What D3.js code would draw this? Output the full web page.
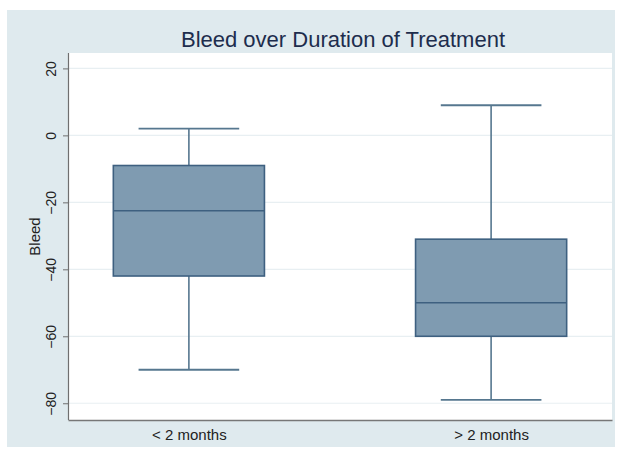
<!DOCTYPE html>
<html>
<head>
<meta charset="utf-8">
<script src="https://cdn.jsdelivr.net/npm/d3@7"></script>
<style>
    body { margin: 0; background: #fff; }
    text { font-family: "Liberation Sans", Arial, sans-serif; }
</style>
</head>
<body>
<div class="data_figure"></div>
<script>
// box plot summary per group
const groups   = ["< 2 months", "> 2 months"];
const whiskLo  = [-70, -79];
const q1       = [-42, -60];
const medians  = [-22.5, -50];
const q3       = [-9, -31];
const whiskHi  = [2, 9];
const yTicks   = [20, 0, -20, -40, -60, -80];

const widthMax = 618;
const heightMax = 450;

const margin = {
    top: 53,
    bottom: 30,
    left: 68,
    right: 6,
}
const width = widthMax - margin.left - margin.right;
const height = 420 - margin.top;

const boxData = groups.map((g, i) => ({
    group: g,
    lo: whiskLo[i],
    q1: q1[i],
    med: medians[i],
    q3: q3[i],
    hi: whiskHi[i],
}));

let root = d3.select(".data_figure")
            .append("svg")
            .attr("width", widthMax)
            .attr("height", heightMax)

// outer background
root.append("rect")
    .attr("x", 7)
    .attr("y", 10)
    .attr("width", 608)
    .attr("height", 437)
    .attr("fill", "#dfeaee")

let svg = root.append("g")
            .attr("transform", "translate(" + margin.left + "," + margin.top + ")");

svg.append("rect")
    .attr("width", width)
    .attr("height", height)
    .attr("fill", "#ffffff")

const xScale = d3.scalePoint()
        .domain(groups)
        .range([0, width])
        .padding(0.4);

const yScale = d3.scaleLinear()
        .domain([-85, 24.6])
        .range([height, 0]);

const step = xScale.step();
const boxW = step * 0.5;
const capW = step * 0.333;

// grid
svg.selectAll(".grid")
    .data(yTicks)
    .enter()
    .append("line")
    .attr("x1", 0)
    .attr("x2", width)
    .attr("y1", d => yScale(d))
    .attr("y2", d => yScale(d))
    .attr("stroke", "#e8eff2")
    .attr("stroke-width", 1.2)

// y axis
let yAxis = svg.append("g")
    .call(d3.axisLeft(yScale).tickValues(yTicks).tickSize(5).tickPadding(4))
yAxis.select(".domain").attr("stroke", "#6f6f6f").attr("stroke-width", 1.2)
    .attr("d", "M0.5," + height + "V0")
yAxis.selectAll(".tick line").attr("stroke", "#6f6f6f")
yAxis.selectAll(".tick text")
    .attr("transform", "rotate(-90)")
    .attr("x", 0)
    .attr("y", -17)
    .attr("dy", "0.35em")
    .attr("text-anchor", "middle")
    .style("font-size", "14px")
    .attr("fill", "#222")

// x axis
let xAxis = svg.append("g")
    .attr("transform", "translate(0," + height + ")")
    .call(d3.axisBottom(xScale).tickSize(0).tickPadding(9))
xAxis.select(".domain").attr("stroke", "#777").attr("stroke-width", 1.5)
xAxis.selectAll(".tick text")
    .style("font-size", "15px")
    .attr("fill", "#222")

svg.append("text")
    .text("Bleed")
    .attr("transform", "rotate(-90)")
    .attr("x", -(height / 2))
    .attr("y", -28)
    .attr("text-anchor", "middle")
    .style("font-size", "15px")
    .attr("fill", "#222")

// title
root.append("text")
    .text("Bleed over Duration of Treatment")
    .attr("x", 343)
    .attr("y", 47)
    .attr("text-anchor", "middle")
    .style("font-size", "22px")
    .attr("fill", "#1d2d4d")

// whiskers
const boxes = svg.selectAll(".box")
    .data(boxData)
    .enter()
    .append("g")
    .attr("class", "box")
    .attr("transform", d => "translate(" + xScale(d.group) + ",0)")

boxes.append("line")
    .attr("x1", 0).attr("x2", 0)
    .attr("y1", d => yScale(d.hi))
    .attr("y2", d => yScale(d.q3))
    .attr("stroke", "#56778f").attr("stroke-width", 1.6)
boxes.append("line")
    .attr("x1", 0).attr("x2", 0)
    .attr("y1", d => yScale(d.q1))
    .attr("y2", d => yScale(d.lo))
    .attr("stroke", "#56778f").attr("stroke-width", 1.6)
boxes.append("line")
    .attr("x1", -capW / 2).attr("x2", capW / 2)
    .attr("y1", d => yScale(d.hi))
    .attr("y2", d => yScale(d.hi))
    .attr("stroke", "#56778f").attr("stroke-width", 1.8)
boxes.append("line")
    .attr("x1", -capW / 2).attr("x2", capW / 2)
    .attr("y1", d => yScale(d.lo))
    .attr("y2", d => yScale(d.lo))
    .attr("stroke", "#56778f").attr("stroke-width", 1.8)

boxes.append("rect")
    .attr("x", -boxW / 2)
    .attr("width", boxW)
    .attr("y", d => yScale(d.q3))
    .attr("height", d => yScale(d.q1) - yScale(d.q3))
    .attr("fill", "#7f9bb1")
    .attr("stroke", "#3e6080")
    .attr("stroke-width", 1.6)

boxes.append("line")
    .attr("x1", -boxW / 2).attr("x2", boxW / 2)
    .attr("y1", d => yScale(d.med))
    .attr("y2", d => yScale(d.med))
    .attr("stroke", "#3e6080").attr("stroke-width", 1.6)
</script>
</body>
</html>
